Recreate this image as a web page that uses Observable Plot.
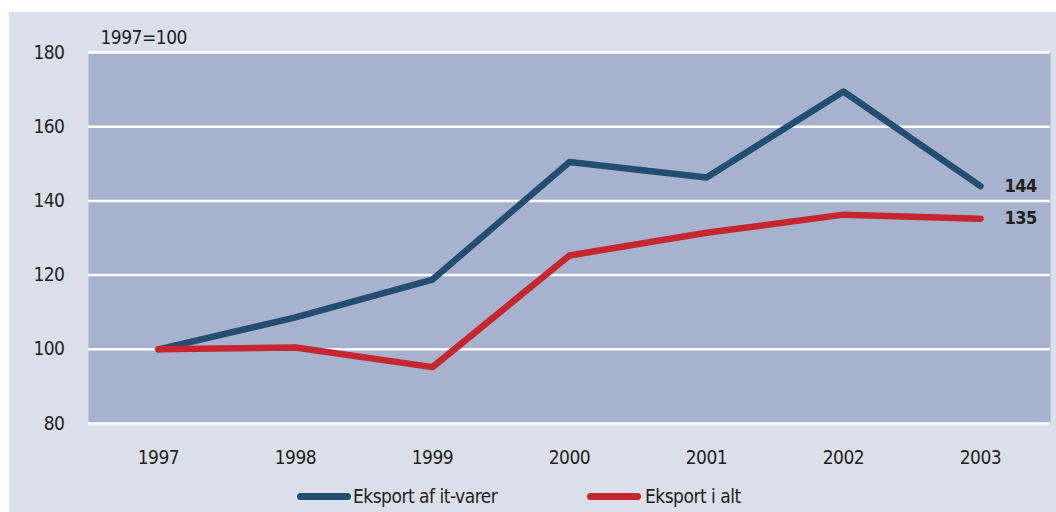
<!DOCTYPE html>
<html>
<head>
<meta charset="utf-8">
<script src="https://cdn.jsdelivr.net/npm/d3@7"></script>
<script src="https://cdn.jsdelivr.net/npm/@observablehq/plot@0.6"></script>
<style>
  html, body { margin: 0; padding: 0; background: #ffffff; width: 1056px; height: 512px; overflow: hidden; }
  #wrap { position: absolute; left: 9px; top: 12px; width: 1047px; height: 500px; background: #dbdfea; overflow: hidden;
          font-family: "DejaVu Sans Condensed", "Open Sans", sans-serif; color: #231f20; }
  #chart svg { display: block; }
  #legend { position: absolute; left: 0; top: 470px; width: 1047px; height: 30px; }
  .sw { position: absolute; height: 7px; border-radius: 4px; top: 11px; }
  .lt { position: absolute; top: 2px; font-size: 19px; letter-spacing: -0.5px; line-height: 24px; white-space: nowrap; }
</style>
</head>
<body>
<div id="wrap">
  <div id="chart"></div>
  <div id="legend"></div>
</div>
<script>
const years = [1997, 1998, 1999, 2000, 2001, 2002, 2003];
const itVarer = [100, 108.6, 118.8, 150.5, 146.3, 169.5, 144];
const iAlt = [100, 100.5, 95.2, 125.3, 131.4, 136.3, 135.2];
const seriesNames = ["Eksport af it-varer", "Eksport i alt"];
const seriesColors = ["#234e72", "#c5262f"];
const yTicks = [80, 100, 120, 140, 160, 180];
const baseLabel = "1997=100";

const rows = [];
years.forEach((y, i) => {
  rows.push({year: y, value: itVarer[i], series: seriesNames[0]});
  rows.push({year: y, value: iAlt[i], series: seriesNames[1]});
});
const last = rows.filter(d => d.year === years[years.length - 1]);

const chart = Plot.plot({
  width: 1047,
  height: 470,
  marginLeft: 79,
  marginRight: 6,
  marginTop: 40,
  marginBottom: 59,
  style: {fontFamily: '"DejaVu Sans Condensed", "Open Sans", sans-serif', fontSize: "19px", letterSpacing: "-0.5px", color: "#231f20", background: "transparent", overflow: "visible"},
  x: {type: "point", domain: years, padding: 0.5, label: null, tickSize: 0, tickPadding: 27, tickFormat: d => String(d)},
  y: {domain: [80, 180], ticks: yTicks, label: null, tickSize: 0, tickPadding: 24},
  color: {domain: seriesNames, range: seriesColors},
  marks: [
    Plot.frame({fill: "#a7b2ce", stroke: null}),
    Plot.ruleY(yTicks, {stroke: "#ffffff", strokeWidth: 2.5}),
    Plot.line(rows, {x: "year", y: "value", z: "series", stroke: "series", strokeWidth: 6.5, strokeLinecap: "round", strokeLinejoin: "round"}),
    Plot.text(last, {x: "year", y: "value", text: d => String(Math.round(d.value)), textAnchor: "start", dx: 24, fontWeight: "bold", fontSize: 18, fill: "#231f20"}),
    Plot.text([baseLabel], {frameAnchor: "top-left", text: d => d, dx: 12, dy: -22, textAnchor: "start", fontSize: 19, fill: "#231f20"})
  ]
});
document.getElementById("chart").appendChild(chart);

const legend = document.getElementById("legend");
const pos = [{sw: 288, tx: 344}, {sw: 578, tx: 636}];
seriesNames.forEach((name, i) => {
  const s = document.createElement("div");
  s.className = "sw";
  s.style.left = pos[i].sw + "px";
  s.style.width = "54px";
  s.style.background = seriesColors[i];
  legend.appendChild(s);
  const t = document.createElement("div");
  t.className = "lt";
  t.style.left = pos[i].tx + "px";
  t.textContent = name;
  legend.appendChild(t);
});
</script>
</body>
</html>
